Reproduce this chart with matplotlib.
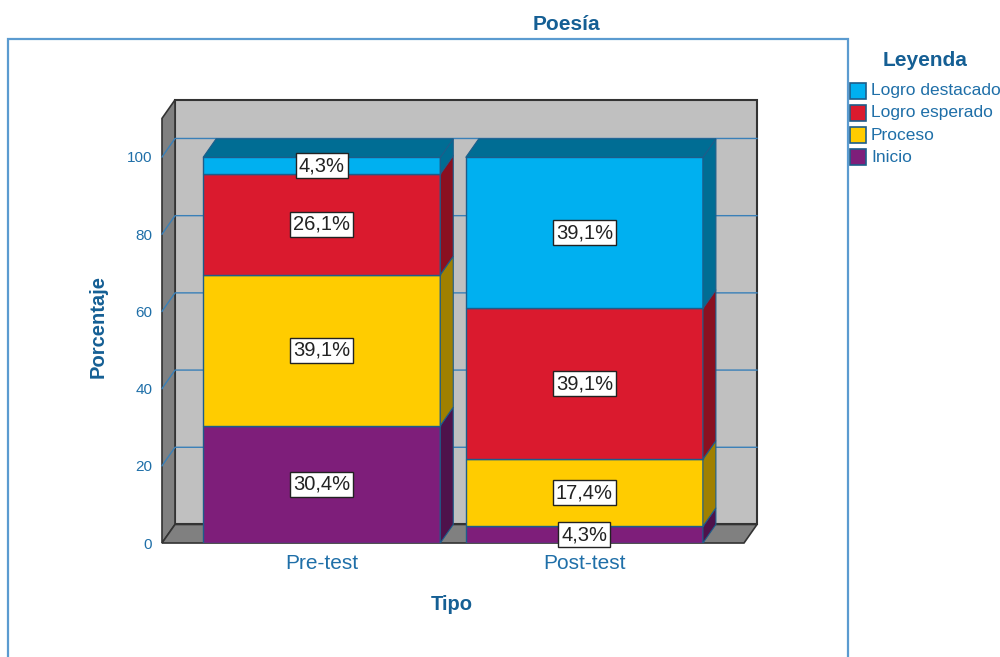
import numpy as np
import matplotlib.pyplot as plt
from matplotlib.patches import Polygon, Rectangle

plt.rcParams['font.family'] = ['Liberation Sans', 'DejaVu Sans']

# datos
tipos = ["Pre-test", "Post-test"]
niveles = ["Inicio", "Proceso", "Logro esperado", "Logro destacado"]
inicio = [30.4, 4.3]
proceso = [39.1, 17.4]
esperado = [26.1, 39.1]
destacado = [4.3, 39.1]
etiquetas_y = [0, 20, 40, 60, 80, 100]

series = [inicio, proceso, esperado, destacado]
colores = ["#7e1e7a", "#ffcc00", "#da1a2e", "#00b0f0"]
lados = ["#4e124b", "#a08000", "#8a1020", "#006d94"]

azul = "#1f6fa8"
azul_osc = "#155f94"
borde = "#1d5d8a"

fig = plt.figure(figsize=(10, 6.57), dpi=100)
ax = fig.add_axes([0.162, 0.1735, 0.582, 0.6463])
x0, x1 = -0.608, 1.608
ymax = 110
ax.set_xlim(x0, x1)
ax.set_ylim(0, ymax)
dx, dy = 0.0495, 4.8   # profundidad

# pared izquierda, suelo, pared de fondo
ax.add_patch(Polygon([(x0 + dx, dy), (x1 + dx, dy), (x1 + dx, ymax + dy), (x0 + dx, ymax + dy)],
                     closed=True, fc="#c0c0c0", ec="#333333", lw=1.5, clip_on=False, zorder=1))
ax.add_patch(Polygon([(x0, 0), (x0 + dx, dy), (x0 + dx, ymax + dy), (x0, ymax)],
                     closed=True, fc="#808080", ec="#333333", lw=1.2, clip_on=False, zorder=2))
ax.add_patch(Polygon([(x0, 0), (x1, 0), (x1 + dx, dy), (x0 + dx, dy)],
                     closed=True, fc="#808080", ec="#333333", lw=1.2, clip_on=False, zorder=2))

# lineas de cuadricula
for v in etiquetas_y[1:]:
    ax.plot([x0, x0 + dx, x1 + dx], [v, v + dy, v + dy], color="#3a80b8", lw=1,
            clip_on=False, zorder=3)

# barras
w = 0.903
pos = np.arange(len(tipos))
base = np.zeros(len(tipos))
for k, vals in enumerate(series):
    vals = np.array(vals)
    ax.bar(pos, vals, w, bottom=base, color=colores[k], edgecolor=borde, lw=1, zorder=5)
    for i in range(len(tipos)):
        xr = pos[i] + w / 2
        b, t = base[i], base[i] + vals[i]
        ax.add_patch(Polygon([(xr, b), (xr + dx, b + dy), (xr + dx, t + dy), (xr, t)],
                             closed=True, fc=lados[k], ec=borde, lw=0.8, clip_on=False, zorder=5))
        ax.text(pos[i], (b + t) / 2, f"{vals[i]:.1f}%".replace(".", ","), ha="center", va="center",
                fontsize=14.5, color="#222222", zorder=8,
                bbox=dict(boxstyle="square,pad=0.15", fc="white", ec="#222222", lw=1))
    base = base + vals

# cara superior
for i in range(len(tipos)):
    xl, xr = pos[i] - w / 2, pos[i] + w / 2
    T = base[i]
    ax.add_patch(Polygon([(xl, T), (xl + dx, T + dy), (xr + dx, T + dy), (xr, T)],
                         closed=True, fc=lados[-1], ec=borde, lw=0.8, clip_on=False, zorder=5))

for s in ax.spines.values():
    s.set_visible(False)
ax.set_yticks(etiquetas_y)
ax.set_yticklabels([str(v) for v in etiquetas_y], color=azul, fontsize=11)
ax.set_xticks(pos)
ax.set_xticklabels(tipos, color=azul, fontsize=15)
ax.tick_params(axis="y", length=0, pad=7)
ax.tick_params(axis="x", length=0, pad=8)
ax.patch.set_visible(False)

# marco
fig.patches.append(Rectangle((0.008, -0.1), 0.840, 1.0405, transform=fig.transFigure,
                             fill=False, ec="#5b9bd0", lw=1.6))

fig.text(0.566, 1 - 25 / 657, "Poesía", ha="center", va="center", fontsize=15,
         fontweight="bold", color=azul_osc)
fig.text(0.452, 1 - 605 / 657, "Tipo", ha="center", va="center", fontsize=14.5,
         fontweight="bold", color=azul_osc)
fig.text(0.098, 1 - 326 / 657, "Porcentaje", ha="center", va="center", rotation=90,
         fontsize=14.5, fontweight="bold", color=azul_osc)

# leyenda
fig.text(0.925, 1 - 61 / 657, "Leyenda", ha="center", va="center", fontsize=15,
         fontweight="bold", color=azul_osc)
for j, k in enumerate(range(len(niveles) - 1, -1, -1)):
    yc = 91 + 22 * j
    fig.patches.append(Rectangle((0.850, 1 - (yc + 8) / 657), 0.016, 16 / 657,
                                 transform=fig.transFigure, fc=colores[k], ec=borde, lw=1.2))
    fig.text(0.871, 1 - yc / 657, niveles[k], ha="left", va="center", fontsize=12.5, color=azul)

fig.savefig("out.png", dpi=100)
